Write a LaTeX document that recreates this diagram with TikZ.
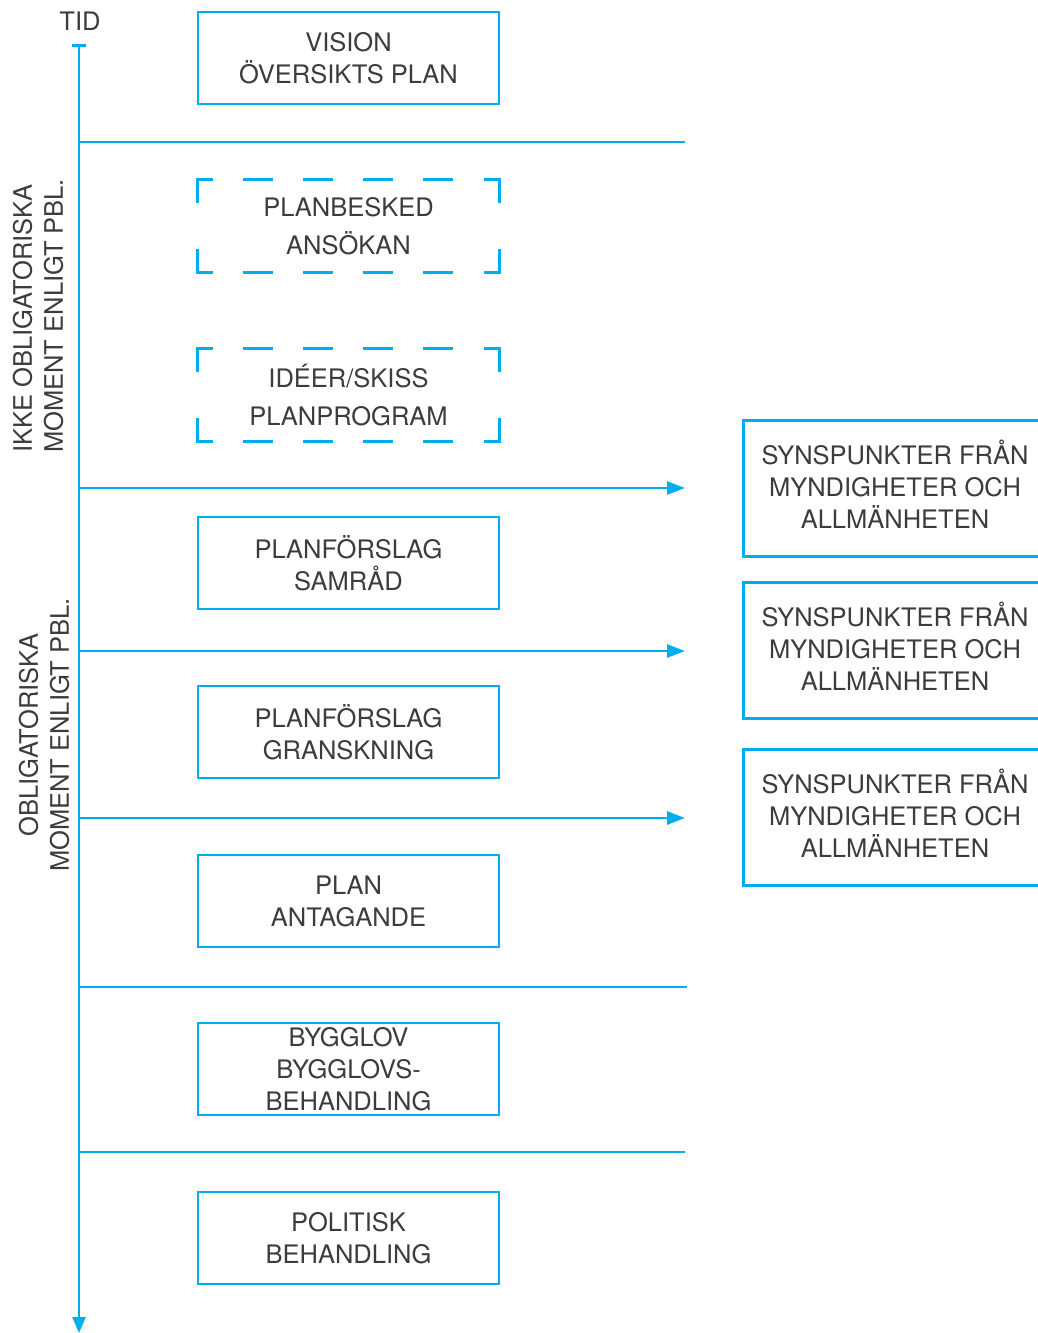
\documentclass[tikz,border=0pt]{standalone}
\usepackage{fontspec}
\setmainfont{TeX Gyre Heros}
\usetikzlibrary{arrows.meta}
\definecolor{cyanline}{RGB}{0,174,239}
\definecolor{txt}{RGB}{60,60,60}
\tikzset{
  base/.style={line width=2.7pt, draw=cyanline},
  mainbox/.style={base, minimum width=301pt, minimum height=92pt, inner sep=0pt, align=center, text=txt,
     font=\fontsize{25.5}{32}\selectfont},
  dashbox/.style={minimum width=301pt, minimum height=92pt, inner sep=0pt, align=center, text=txt,
     font=\fontsize{25.5}{38}\selectfont},
  sidebox/.style={minimum width=302pt, minimum height=135pt, inner sep=0pt, align=center, text=txt,
     font=\fontsize{25.5}{32}\selectfont},
  hline/.style={line width=2.6pt, draw=cyanline},
  harrow/.style={hline, -{Triangle[length=18pt,width=13pt]}},
  corner/.style={line width=2.7pt, draw=cyanline},
  dashmid/.style={line width=2.7pt, draw=cyanline, dash pattern=on 30pt off 30pt},
  lbl/.style={text=txt, font=\fontsize{25.5}{31}\selectfont, inner sep=0pt}
}
\begin{document}
\begin{tikzpicture}[x=1pt,y=-1pt]
\useasboundingbox (0,0) rectangle (1038,1333);

% time axis
\node[lbl] (tid) at (80,21) {TID};
\coordinate (top) at (79,44);
\coordinate (bot) at (79,1333);
\draw[hline, {Bar[width=14pt]}-{Triangle[length=16pt,width=13pt]}] (top) -- (bot);

% side labels
\node[lbl, rotate=90, anchor=west, align=left] (lab1) at (38,453) {IKKE OBLIGATORISKA\\MOMENT ENLIGT PBL.};
\node[lbl, rotate=90, anchor=center, align=center] (lab2) at (44,735) {OBLIGATORISKA\\MOMENT ENLIGT PBL.};

% horizontal lines
\foreach \i/\y in {1/142,2/488,3/651,4/818,5/987,6/1152} {
  \coordinate (a\i) at (79,\y);
}
\coordinate (e1) at (685,142);
\coordinate (e2) at (685,488);
\coordinate (e3) at (685,651);
\coordinate (e4) at (685,818);
\coordinate (e5) at (687,987);
\coordinate (e6) at (685,1152);
\draw[hline] (a1) -- (e1);
\draw[harrow] (a2) -- (e2);
\draw[harrow] (a3) -- (e3);
\draw[harrow] (a4) -- (e4);
\draw[hline] (a5) -- (e5);
\draw[hline] (a6) -- (e6);

% main boxes
\node[mainbox] (b1) at (348.5,58) {VISION\\ÖVERSIKTS PLAN};
\node[dashbox] (d1) at (348.5,226) {PLANBESKED\\ANSÖKAN};
\node[dashbox] (d2) at (348.5,395) {IDÉER/SKISS\\PLANPROGRAM};
\node[mainbox] (b2) at (348.5,563) {PLANFÖRSLAG\\SAMRÅD};
\node[mainbox] (b3) at (348.5,732) {PLANFÖRSLAG\\GRANSKNING};
\node[mainbox] (b4) at (348.5,901) {PLAN\\ANTAGANDE};
\node[mainbox] (b5) at (348.5,1069) {BYGGLOV\\BYGGLOVS-\\BEHANDLING};
\node[mainbox] (b6) at (348.5,1238) {POLITISK\\BEHANDLING};

% dashed outlines
\foreach \d in {d1,d2} {
  \draw[corner] ([yshift=-23pt]\d.north west) -- (\d.north west) -- ([xshift=15pt]\d.north west);
  \draw[corner] ([yshift=-23pt]\d.north east) -- (\d.north east) -- ([xshift=-15pt]\d.north east);
  \draw[corner] ([yshift=23pt]\d.south west) -- (\d.south west) -- ([xshift=15pt]\d.south west);
  \draw[corner] ([yshift=23pt]\d.south east) -- (\d.south east) -- ([xshift=-15pt]\d.south east);
  \draw[dashmid] ([xshift=45pt]\d.north west) -- ([xshift=-45pt]\d.north east);
  \draw[dashmid] ([xshift=45pt]\d.south west) -- ([xshift=-45pt]\d.south east);
}

% side boxes (open to the right edge)
\coordinate (R) at (1040,0);
\node[sidebox] (s1) at (895,488.5) {};
\node[sidebox] (s2) at (895,650.5) {};
\node[sidebox] (s3) at (895,817.5) {};
\foreach \s in {s1,s2,s3} {
  \node[lbl, align=center, font=\fontsize{25.5}{32}\selectfont] at ([yshift=4pt]\s.center) {SYNSPUNKTER FRÅN\\MYNDIGHETER OCH\\ALLMÄNHETEN};
  \draw[base] (\s.north -| R) -- (\s.north west) -- (\s.south west) -- (\s.south -| R);
}
\end{tikzpicture}
\end{document}
